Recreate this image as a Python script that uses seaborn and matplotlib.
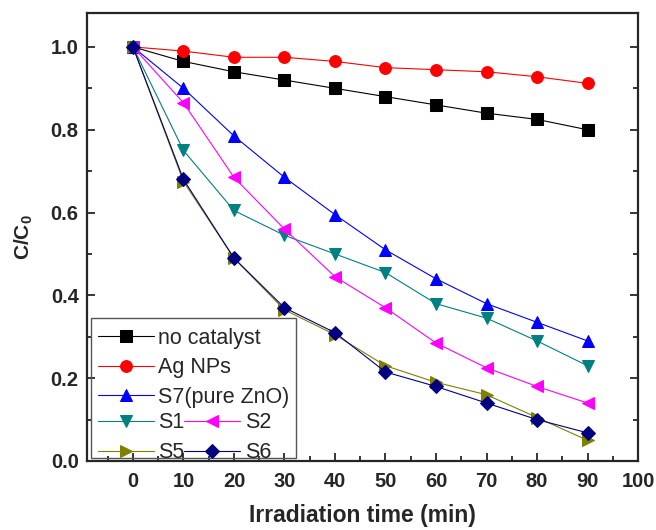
import numpy as np
import pandas as pd
import matplotlib
matplotlib.use("Agg")
import matplotlib.pyplot as plt
from matplotlib.patches import Rectangle
from matplotlib.ticker import MultipleLocator
import seaborn as sns

# data
time = [0, 10, 20, 30, 40, 50, 60, 70, 80, 90]
no_catalyst = [1.0, 0.965, 0.94, 0.92, 0.90, 0.88, 0.86, 0.84, 0.825, 0.80]
ag_nps = [1.0, 0.99, 0.975, 0.975, 0.965, 0.95, 0.945, 0.94, 0.928, 0.912]
s7 = [1.0, 0.90, 0.785, 0.685, 0.595, 0.51, 0.44, 0.38, 0.335, 0.29]
s1 = [1.0, 0.75, 0.605, 0.545, 0.50, 0.455, 0.38, 0.345, 0.29, 0.23]
s2 = [1.0, 0.865, 0.685, 0.56, 0.445, 0.37, 0.285, 0.225, 0.18, 0.14]
s5 = [1.0, 0.675, 0.49, 0.365, 0.305, 0.23, 0.19, 0.16, 0.105, 0.05]
s6 = [1.0, 0.68, 0.49, 0.37, 0.31, 0.215, 0.18, 0.14, 0.10, 0.068]

labels = ["no catalyst", "Ag NPs", "S7(pure ZnO)", "S1", "S2", "S5", "S6"]
series = [no_catalyst, ag_nps, s7, s1, s2, s5, s6]
colors = ["black", "red", "blue", "#008080", "magenta", "#808000", "#000080"]
markers = ["s", "o", "^", "v", "<", ">", "D"]

sns.set_style("ticks")
plt.rcParams["font.family"] = ["Liberation Sans", "DejaVu Sans"]
plt.rcParams["font.weight"] = "bold"

fig = plt.figure(figsize=(6.56, 5.30), dpi=100)
ax = fig.add_axes([0.1326, 0.1302, 0.84, 0.8453])

for lab, vals, c, m in zip(labels, series, colors, markers):
    ms = 7.5 if m == "D" else 8.5
    sns.lineplot(x=time, y=vals, ax=ax, color=c, marker=m, markersize=ms,
                 markeredgecolor=c, linewidth=0.8, label=lab)

ax.set_xticks(range(0, 101, 10))
ax.set_yticks([0.0, 0.2, 0.4, 0.6, 0.8, 1.0])
ax.xaxis.set_minor_locator(MultipleLocator(5))
ax.yaxis.set_minor_locator(MultipleLocator(0.1))
ax.set_xlim(-9.1, 100)
ax.set_ylim(0, 1.082)
ax.tick_params(which="both", direction="in", left=True, right=True, bottom=True, top=False,
               width=1.3, labelsize=14.5)
ax.tick_params(which="major", length=6)
ax.tick_params(which="minor", length=3.5)
ax.tick_params(axis="x", pad=8)
ax.tick_params(axis="y", pad=6)
for lbl in ax.get_xticklabels() + ax.get_yticklabels():
    lbl.set_fontweight("bold")
for sp in ax.spines.values():
    sp.set_linewidth(1.6)
    sp.set_visible(True)

ax.set_xlabel("Irradiation time (min)", fontsize=16.5, fontweight="bold", labelpad=9)
ax.set_ylabel("C/C$_\\mathregular{0}$", fontsize=15, fontweight="bold", labelpad=11)

# Origin-style legend: three single rows, then two rows with two entries each
handles, labs = ax.get_legend_handles_labels()
ax.get_legend().remove()
common = dict(frameon=False, fontsize=15.5, handlelength=2.6, handletextpad=0.2,
              borderpad=0.2, labelspacing=0.4, borderaxespad=0.0)
leg1 = ax.legend(handles[:3], labs[:3], loc="upper left",
                 bbox_to_anchor=(0.012, 0.307), **common)
for t in leg1.get_texts():
    t.set_fontweight("normal")
ax.add_artist(leg1)
order = [3, 5, 4, 6]
leg2 = ax.legend([handles[i] for i in order], [labs[i] for i in order], loc="upper left",
                 bbox_to_anchor=(0.012, 0.118), ncol=2, columnspacing=0.0, **common)
for t in leg2.get_texts():
    t.set_fontweight("normal")
ax.add_patch(Rectangle((0.007, 0.007), 0.372, 0.312, transform=ax.transAxes,
                       fill=False, edgecolor="#555555", linewidth=1.0, zorder=5))

fig.savefig("out.png", dpi=100)
